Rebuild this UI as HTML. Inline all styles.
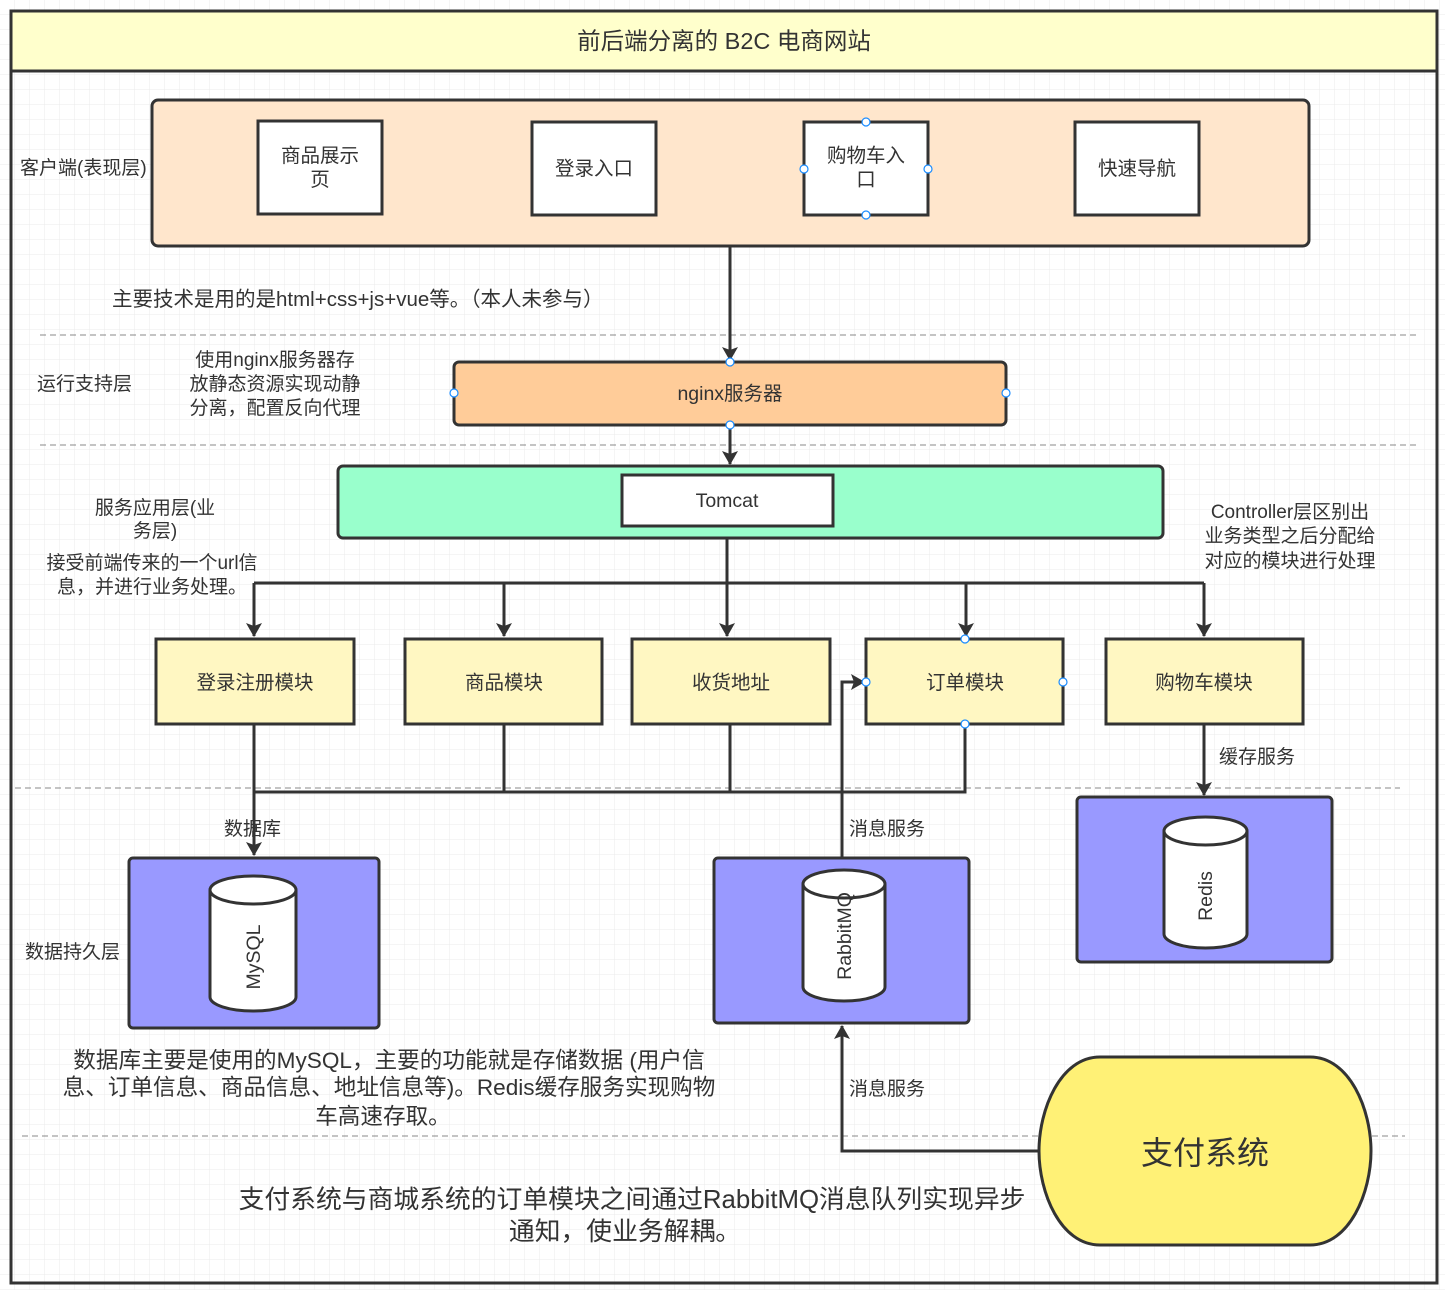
<!DOCTYPE html>
<html><head><meta charset="utf-8"><style>
body{margin:0;background:#fff}
svg text{font-family:"Liberation Sans","Noto Sans CJK SC",sans-serif;fill:#333}
</style></head><body>
<svg width="1445" height="1290" viewBox="0 0 1445 1290" xmlns="http://www.w3.org/2000/svg">
<defs>
<pattern id="g" width="15" height="15" patternUnits="userSpaceOnUse"><path d="M15 0V15M0 15H15" stroke="#ebebeb" stroke-width="1" fill="none"/></pattern>
<marker id="b" markerWidth="14" markerHeight="16" refX="13" refY="8" orient="auto" markerUnits="userSpaceOnUse" viewBox="0 0 14 16"><path d="M0 0L14 8L0 16L3 8Z" fill="#333"/></marker>
</defs>
<rect width="1445" height="1290" fill="url(#g)"/>
<g stroke="#888" stroke-width="1" stroke-dasharray="6,4">
<path d="M40 335H1420M40 445H1420M15 788H1400M22 1136H1405"/>
</g>
<g stroke="#333" stroke-width="3" fill="none">
<path d="M727 526V583M254 583H1204"/>
<path d="M504 724V792M730 724V792M965 724V792H254"/>
</g>
<g stroke="#333" stroke-width="3">
<rect x="11" y="11" width="1426" height="1272" fill="none"/>
<rect x="11" y="11" width="1426" height="60" fill="#ffffcc"/>
<rect x="152" y="100" width="1157" height="146" rx="6" fill="#ffe6cc"/>
<rect x="258" y="121" width="124" height="93" fill="#fff"/>
<rect x="532" y="122" width="124" height="93" fill="#fff"/>
<rect x="804" y="122" width="124" height="93" fill="#fff"/>
<rect x="1075" y="122" width="124" height="93" fill="#fff"/>
<rect x="454" y="362" width="552" height="63" rx="5" fill="#ffcc99"/>
<rect x="338" y="466" width="825" height="72" rx="5" fill="#99ffcc"/>
<rect x="622" y="475" width="211" height="51" fill="#fff"/>
<rect x="156" y="639" width="198" height="85" fill="#fff7c2"/>
<rect x="405" y="639" width="197" height="85" fill="#fff7c2"/>
<rect x="632" y="639" width="198" height="85" fill="#fff7c2"/>
<rect x="866" y="639" width="197" height="85" fill="#fff7c2"/>
<rect x="1106" y="639" width="197" height="85" fill="#fff7c2"/>
<rect x="129" y="858" width="250" height="170" rx="4" fill="#9999ff"/>
<rect x="714" y="858" width="255" height="165" rx="4" fill="#9999ff"/>
<rect x="1077" y="797" width="255" height="165" rx="4" fill="#9999ff"/>
<path d="M210 890A43 14 0 0 1 296 890V997A43 14 0 0 1 210 997Z" fill="#fff"/>
<path d="M210 890A43 14 0 0 0 296 890" fill="none"/>
<path d="M803 884A41 14 0 0 1 885 884V987A41 14 0 0 1 803 987Z" fill="#fff"/>
<path d="M803 884A41 14 0 0 0 885 884" fill="none"/>
<path d="M1164 831A41.5 14 0 0 1 1247 831V934A41.5 14 0 0 1 1164 934Z" fill="#fff"/>
<path d="M1164 831A41.5 14 0 0 0 1247 831" fill="none"/>
<path d="M1100 1057H1310C1350 1057 1371 1110 1371 1151C1371 1192 1350 1245 1310 1245H1100C1060 1245 1039 1192 1039 1151C1039 1110 1060 1057 1100 1057Z" fill="#fff176"/>
</g>
<g stroke="#333" stroke-width="3" fill="none">
<path d="M730 246V360" marker-end="url(#b)"/>
<path d="M730 425V464" marker-end="url(#b)"/>
<path d="M254 583V636" marker-end="url(#b)"/>
<path d="M504 583V636" marker-end="url(#b)"/>
<path d="M727 583V636" marker-end="url(#b)"/>
<path d="M966 583V636" marker-end="url(#b)"/>
<path d="M1204 583V636" marker-end="url(#b)"/>
<path d="M254 724V855" marker-end="url(#b)"/>
<path d="M1204 724V795" marker-end="url(#b)"/>
<path d="M842 858V682H864" marker-end="url(#b)"/>
<path d="M1039 1151H842V1026" marker-end="url(#b)"/>
</g>
<g fill="#fff" stroke="#1a8cff" stroke-width="1.2">
<circle cx="866" cy="122" r="4"/><circle cx="866" cy="215" r="4"/><circle cx="804" cy="169" r="4"/><circle cx="928" cy="169" r="4"/>
<circle cx="730" cy="362" r="4"/><circle cx="730" cy="425" r="4"/><circle cx="454" cy="393" r="4"/><circle cx="1006" cy="393" r="4"/>
<circle cx="965" cy="639" r="4"/><circle cx="965" cy="724" r="4"/><circle cx="866" cy="682" r="4"/><circle cx="1063" cy="682" r="4"/>
</g>
<g font-size="19.5" text-anchor="middle">
<text x="724" y="49" font-size="23.5">前后端分离的 B2C 电商网站</text>
<text x="320" y="162">商品展示</text><text x="320" y="186">页</text>
<text x="594" y="175">登录入口</text>
<text x="866" y="162">购物车入</text><text x="866" y="186">口</text>
<text x="1137" y="175">快速导航</text>
<text x="730" y="400">nginx服务器</text>
<text x="727" y="507">Tomcat</text>
<text x="255" y="689">登录注册模块</text>
<text x="504" y="689">商品模块</text>
<text x="731" y="689">收货地址</text>
<text x="965" y="689">订单模块</text>
<text x="1204" y="689">购物车模块</text>
<text x="1205" y="1164" font-size="32">支付系统</text>
</g>
<g font-size="19.5" text-anchor="middle">
<text transform="translate(260,957) rotate(-90)">MySQL</text>
<text transform="translate(851,936) rotate(-90)">RabbitMQ</text>
<text transform="translate(1212,896) rotate(-90)">Redis</text>
</g>
<g font-size="19">
<text x="20" y="174">客户端(表现层)</text>
<text x="112" y="306" font-size="20.5">主要技术是用的是html+css+js+vue等。（本人未参与）</text>
<text x="37" y="390">运行支持层</text>
<text x="275" y="366" text-anchor="middle">使用nginx服务器存</text>
<text x="275" y="390" text-anchor="middle">放静态资源实现动静</text>
<text x="275" y="414" text-anchor="middle">分离，配置反向代理</text>
<text x="155" y="514" text-anchor="middle">服务应用层(业</text>
<text x="155" y="537" text-anchor="middle">务层)</text>
<text x="152" y="569" text-anchor="middle">接受前端传来的一个url信</text>
<text x="152" y="593" text-anchor="middle">息，并进行业务处理。</text>
<text x="1290" y="518" text-anchor="middle">Controller层区别出</text>
<text x="1290" y="542" text-anchor="middle">业务类型之后分配给</text>
<text x="1290" y="567" text-anchor="middle">对应的模块进行处理</text>
<text x="1219" y="763">缓存服务</text>
<text x="224" y="835">数据库</text>
<text x="849" y="835">消息服务</text>
<text x="25" y="958">数据持久层</text>
<text x="849" y="1095">消息服务</text>
<text x="389" y="1068" font-size="22.6" text-anchor="middle">数据库主要是使用的MySQL，主要的功能就是存储数据 (用户信</text>
<text x="389" y="1095" font-size="22.6" text-anchor="middle">息、订单信息、商品信息、地址信息等)。Redis缓存服务实现购物</text>
<text x="383" y="1124" font-size="22.6" text-anchor="middle">车高速存取。</text>
<text x="632" y="1208" font-size="25.8" text-anchor="middle">支付系统与商城系统的订单模块之间通过RabbitMQ消息队列实现异步</text>
<text x="625" y="1240" font-size="25.8" text-anchor="middle">通知，使业务解耦。</text>
</g>
</svg>
</body></html>
